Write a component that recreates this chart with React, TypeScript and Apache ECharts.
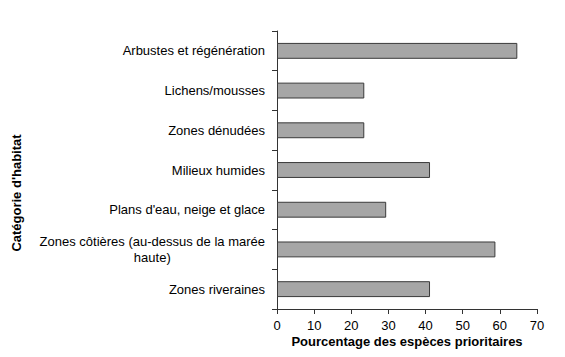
import React, { useEffect, useRef } from "react";
import * as echarts from "echarts";

const categories = [
  "Arbustes et régénération",
  "Lichens/mousses",
  "Zones dénudées",
  "Milieux humides",
  "Plans d'eau, neige et glace",
  "Zones côtières (au-dessus de la marée\nhaute)",
  "Zones riveraines",
];
const values = [64.7, 23.5, 23.5, 41.2, 29.4, 58.8, 41.2];
const xTicks = { min: 0, max: 70, interval: 10 };
const xTitle = "Pourcentage des espèces prioritaires";
const yTitle = "Catégorie d'habitat";

export default function App() {
  const ref = useRef<HTMLDivElement>(null);
  useEffect(() => {
    document.body.style.margin = "0";
    if (!ref.current) return;
    const chart = echarts.init(ref.current, undefined, { renderer: "svg" });
    const font = "'Liberation Sans', Arial, sans-serif";
    chart.setOption({
      animation: false,
      grid: { left: 277, right: 28, top: 31, bottom: 48 },
      xAxis: {
        type: "value",
        min: xTicks.min,
        max: xTicks.max,
        interval: xTicks.interval,
        axisLine: { show: true, lineStyle: { color: "#333", width: 1 } },
        axisTick: { show: true, length: 5, lineStyle: { color: "#333" } },
        splitLine: { show: false },
        axisLabel: { color: "#000", fontSize: 13, fontFamily: font, margin: 10 },
      },
      yAxis: {
        type: "category",
        data: categories,
        inverse: true,
        axisLine: { show: true, lineStyle: { color: "#333", width: 1 } },
        axisTick: { show: true, length: 5, alignWithLabel: false, lineStyle: { color: "#333" } },
        axisLabel: {
          color: "#000",
          fontSize: 13,
          fontFamily: font,
          margin: 12,
          lineHeight: 16,
          formatter: (v: string) => {
            const parts = v.split("\n");
            if (parts.length === 1) return v;
            return "{a|" + parts[0] + "}\n{b|" + parts[1] + "}";
          },
          rich: {
            a: { fontSize: 13, fontFamily: font, color: "#000", lineHeight: 16, align: "right" },
            b: { fontSize: 13, fontFamily: font, color: "#000", lineHeight: 16, align: "center" },
          },
        },
      },
      series: [
        {
          type: "bar",
          data: values,
          barCategoryGap: "60%",
          itemStyle: { color: "#a6a6a6", borderColor: "#3a3a3a", borderWidth: 1 },
        },
      ],
      graphic: [
        {
          type: "text",
          x: 407,
          y: 341,
          style: {
            text: xTitle,
            font: "bold 13px " + font,
            fill: "#000",
            align: "center",
            verticalAlign: "middle",
          },
        },
        {
          type: "text",
          x: 16,
          y: 193,
          rotation: Math.PI / 2,
          style: {
            text: yTitle,
            font: "bold 13px " + font,
            fill: "#000",
            align: "center",
            verticalAlign: "middle",
          },
        },
      ],
    });
    return () => chart.dispose();
  }, []);
  return <div ref={ref} style={{ width: 565, height: 357 }} />;
}
